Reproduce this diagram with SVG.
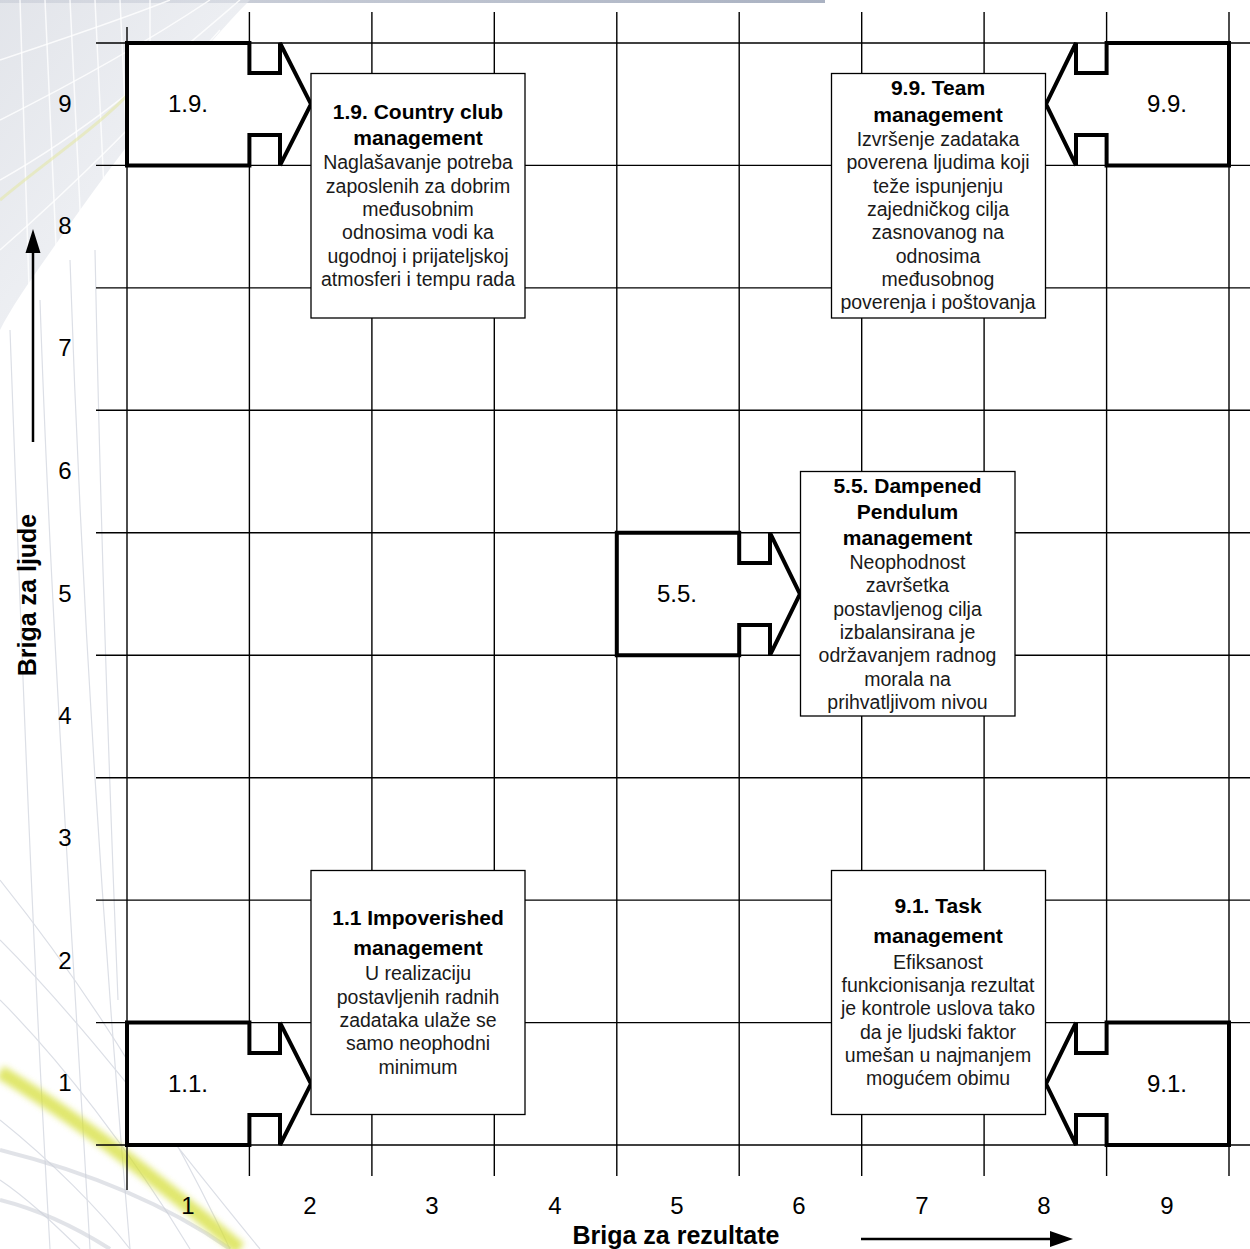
<svg xmlns="http://www.w3.org/2000/svg" width="1250" height="1249" viewBox="0 0 1250 1249">
<style>
.grid line{stroke:#000;stroke-width:1.4}
.arr{fill:#fff;stroke:#000;stroke-width:4;stroke-linejoin:miter}
.box{fill:#fff;stroke:#000;stroke-width:1.3}
text{font-family:"Liberation Sans",Arial,sans-serif;fill:#000}
.t{font-size:21px;font-weight:bold;text-anchor:middle}
.b{font-size:19.5px;text-anchor:middle;fill:#1a1a1a}
.lab{font-size:24px;text-anchor:middle}
.num{font-size:24px;text-anchor:middle}
.ax{font-size:25px;font-weight:bold;text-anchor:middle}
.deco{fill:none;stroke:#dcdfe6;stroke-width:1.2}
.mw{fill:none;stroke:#fff;stroke-width:1.5;opacity:0.8}
</style>
<defs>
<linearGradient id="topbar" x1="0" y1="0" x2="1" y2="0">
<stop offset="0" stop-color="#d5d8e0"/><stop offset="1" stop-color="#aab2c2"/>
</linearGradient>
<linearGradient id="mesh" x1="0" y1="0" x2="1" y2="1">
<stop offset="0" stop-color="#cfd3dc"/><stop offset="0.6" stop-color="#e4e7ed"/><stop offset="1" stop-color="#f4f5f8"/>
</linearGradient>
<filter id="blur" x="-20%" y="-20%" width="140%" height="140%"><feGaussianBlur stdDeviation="3"/></filter>
</defs>
<rect width="1250" height="1249" fill="#fff"/>
<g id="background">
<rect x="0" y="0" width="825" height="3" fill="url(#topbar)"/>
<path d="M0,0 L250,0 C200,50 130,140 80,210 C45,260 15,300 0,330 Z" fill="url(#mesh)" opacity="0.6"/>
<path class="mw" d="M0,60 C60,40 120,20 170,0 M0,120 C80,80 150,40 210,0 M0,180 C90,130 170,60 240,0 M0,250 C80,180 150,110 220,30"/>
<path class="mw" d="M20,0 L30,320 M45,0 L58,290 M70,0 L82,250 M95,0 L105,210 M120,0 L128,170 M150,0 L150,130"/>
<path d="M0,200 C60,150 110,120 150,70" fill="none" stroke="#e4e8a8" stroke-width="3" opacity="0.6"/>
<path class="deco" d="M10,330 C20,600 30,900 50,1249 M40,300 C50,600 70,900 90,1249 M70,260 C80,560 100,900 130,1249 M95,250 C100,500 110,800 118,1000"/>
<path class="deco" d="M0,880 C80,980 160,1100 230,1249 M0,940 C90,1030 170,1140 260,1249 M0,1000 C60,1060 130,1150 190,1249 M0,1120 C50,1160 100,1210 130,1249 M0,1180 C30,1200 60,1230 80,1249"/>
<path d="M0,1150 C80,1170 160,1200 230,1249 M0,1200 C40,1210 80,1230 110,1249" fill="none" stroke="#cdd0d8" stroke-width="4" opacity="0.6"/>
<path d="M0,1072 C80,1120 170,1190 240,1249" fill="none" stroke="#d6df3a" stroke-width="14" opacity="0.75" filter="url(#blur)"/>
</g>
<g id="grid" class="grid">
<line x1="127" y1="27" x2="127" y2="1190"/>
<line x1="249.4" y1="12" x2="249.4" y2="1176"/>
<line x1="371.9" y1="12" x2="371.9" y2="1176"/>
<line x1="494.3" y1="12" x2="494.3" y2="1176"/>
<line x1="616.8" y1="12" x2="616.8" y2="1176"/>
<line x1="739.2" y1="12" x2="739.2" y2="1176"/>
<line x1="861.7" y1="12" x2="861.7" y2="1176"/>
<line x1="984.1" y1="12" x2="984.1" y2="1176"/>
<line x1="1106.6" y1="12" x2="1106.6" y2="1176"/>
<line x1="1229" y1="12" x2="1229" y2="1176"/>
<line x1="96" y1="43" x2="1250" y2="43"/>
<line x1="96" y1="165.4" x2="1250" y2="165.4"/>
<line x1="96" y1="287.9" x2="1250" y2="287.9"/>
<line x1="96" y1="410.3" x2="1250" y2="410.3"/>
<line x1="96" y1="532.8" x2="1250" y2="532.8"/>
<line x1="96" y1="655.2" x2="1250" y2="655.2"/>
<line x1="96" y1="777.7" x2="1250" y2="777.7"/>
<line x1="96" y1="900.1" x2="1250" y2="900.1"/>
<line x1="96" y1="1022.6" x2="1250" y2="1022.6"/>
<line x1="96" y1="1145" x2="1250" y2="1145"/>
</g>
<g id="axis-numbers">
<text class="num" x="65" y="112">9</text>
<text class="num" x="65" y="234">8</text>
<text class="num" x="65" y="356">7</text>
<text class="num" x="65" y="479">6</text>
<text class="num" x="65" y="602">5</text>
<text class="num" x="65" y="724">4</text>
<text class="num" x="65" y="846">3</text>
<text class="num" x="65" y="969">2</text>
<text class="num" x="65" y="1091">1</text>
<text class="num" x="188" y="1214">1</text>
<text class="num" x="310" y="1214">2</text>
<text class="num" x="432" y="1214">3</text>
<text class="num" x="555" y="1214">4</text>
<text class="num" x="677" y="1214">5</text>
<text class="num" x="799" y="1214">6</text>
<text class="num" x="922" y="1214">7</text>
<text class="num" x="1044" y="1214">8</text>
<text class="num" x="1167" y="1214">9</text>
</g>
<g id="connectors">
<line x1="33" y1="442" x2="33" y2="250" stroke="#000" stroke-width="2.5"/>
<polygon points="33,229 25.5,253 40.5,253" fill="#000"/>
<line x1="861" y1="1239" x2="1052" y2="1239" stroke="#000" stroke-width="2.5"/>
<polygon points="1073,1239 1050,1231 1050,1247" fill="#000"/>
</g>
<g id="axis-labels">
<text class="ax" x="676" y="1244">Briga za rezultate</text>
<text class="ax" transform="translate(36,595) rotate(-90)" x="0" y="0">Briga za ljude</text>
</g>
<g id="node-arrow-1-9">
<polygon class="arr" points="127,43 249.4,43 249.4,73 280,73 280,43 311,104.2 280,165.4 280,135 249.4,135 249.4,165.4 127,165.4"/>
<text class="lab" x="188" y="112">1.9.</text>
</g>
<g id="node-arrow-1-1">
<polygon class="arr" points="127,1022.6 249.4,1022.6 249.4,1053 280,1053 280,1022.6 311,1083.8 280,1145 280,1115 249.4,1115 249.4,1145 127,1145"/>
<text class="lab" x="188" y="1092">1.1.</text>
</g>
<g id="node-arrow-5-5">
<polygon class="arr" points="616.8,532.8 739.2,532.8 739.2,563 770,563 770,532.8 800,594 770,655.2 770,625 739.2,625 739.2,655.2 616.8,655.2"/>
<text class="lab" x="677" y="602">5.5.</text>
</g>
<g id="node-arrow-9-9">
<polygon class="arr" points="1229,43 1106.6,43 1106.6,73 1076,73 1076,43 1046,104.2 1076,165.4 1076,135 1106.6,135 1106.6,165.4 1229,165.4"/>
<text class="lab" x="1167" y="112">9.9.</text>
</g>
<g id="node-arrow-9-1">
<polygon class="arr" points="1229,1022.6 1106.6,1022.6 1106.6,1053 1076,1053 1076,1022.6 1046,1083.8 1076,1145 1076,1115 1106.6,1115 1106.6,1145 1229,1145"/>
<text class="lab" x="1167" y="1092">9.1.</text>
</g>
<g id="node-box-1-9">
<rect class="box" x="311" y="73.5" width="214" height="244.5"/>
<text class="t" x="418" y="119">1.9. Country club</text>
<text class="t" x="418" y="145">management</text>
<text class="b" x="418" y="169">Naglašavanje potreba</text>
<text class="b" x="418" y="193">zaposlenih za dobrim</text>
<text class="b" x="418" y="216">međusobnim</text>
<text class="b" x="418" y="239">odnosima vodi ka</text>
<text class="b" x="418" y="263">ugodnoj i prijateljskoj</text>
<text class="b" x="418" y="286">atmosferi i tempu rada</text>
</g>
<g id="node-box-9-9">
<rect class="box" x="831.5" y="73.5" width="214" height="244.5"/>
<text class="t" x="938" y="95">9.9. Team</text>
<text class="t" x="938" y="122">management</text>
<text class="b" x="938" y="146">Izvršenje zadataka</text>
<text class="b" x="938" y="169">poverena ljudima koji</text>
<text class="b" x="938" y="193">teže ispunjenju</text>
<text class="b" x="938" y="216">zajedničkog cilja</text>
<text class="b" x="938" y="239">zasnovanog na</text>
<text class="b" x="938" y="263">odnosima</text>
<text class="b" x="938" y="286">međusobnog</text>
<text class="b" x="938" y="309">poverenja i poštovanja</text>
</g>
<g id="node-box-5-5">
<rect class="box" x="800.5" y="471.5" width="214.5" height="244.5"/>
<text class="t" x="907.5" y="493">5.5. Dampened</text>
<text class="t" x="907.5" y="519">Pendulum</text>
<text class="t" x="907.5" y="545">management</text>
<text class="b" x="907.5" y="569">Neophodnost</text>
<text class="b" x="907.5" y="592">završetka</text>
<text class="b" x="907.5" y="616">postavljenog cilja</text>
<text class="b" x="907.5" y="639">izbalansirana je</text>
<text class="b" x="907.5" y="662">održavanjem radnog</text>
<text class="b" x="907.5" y="686">morala na</text>
<text class="b" x="907.5" y="709">prihvatljivom nivou</text>
</g>
<g id="node-box-1-1">
<rect class="box" x="311" y="870.5" width="214" height="244"/>
<text class="t" x="418" y="925">1.1 Impoverished</text>
<text class="t" x="418" y="955">management</text>
<text class="b" x="418" y="980">U realizaciju</text>
<text class="b" x="418" y="1004">postavljenih radnih</text>
<text class="b" x="418" y="1027">zadataka ulaže se</text>
<text class="b" x="418" y="1050">samo neophodni</text>
<text class="b" x="418" y="1074">minimum</text>
</g>
<g id="node-box-9-1">
<rect class="box" x="831.5" y="870.5" width="214" height="244"/>
<text class="t" x="938" y="913">9.1. Task</text>
<text class="t" x="938" y="943">management</text>
<text class="b" x="938" y="969">Efiksanost</text>
<text class="b" x="938" y="992">funkcionisanja rezultat</text>
<text class="b" x="938" y="1015">je kontrole uslova tako</text>
<text class="b" x="938" y="1039">da je ljudski faktor</text>
<text class="b" x="938" y="1062">umešan u najmanjem</text>
<text class="b" x="938" y="1085">mogućem obimu</text>
</g>
</svg>
